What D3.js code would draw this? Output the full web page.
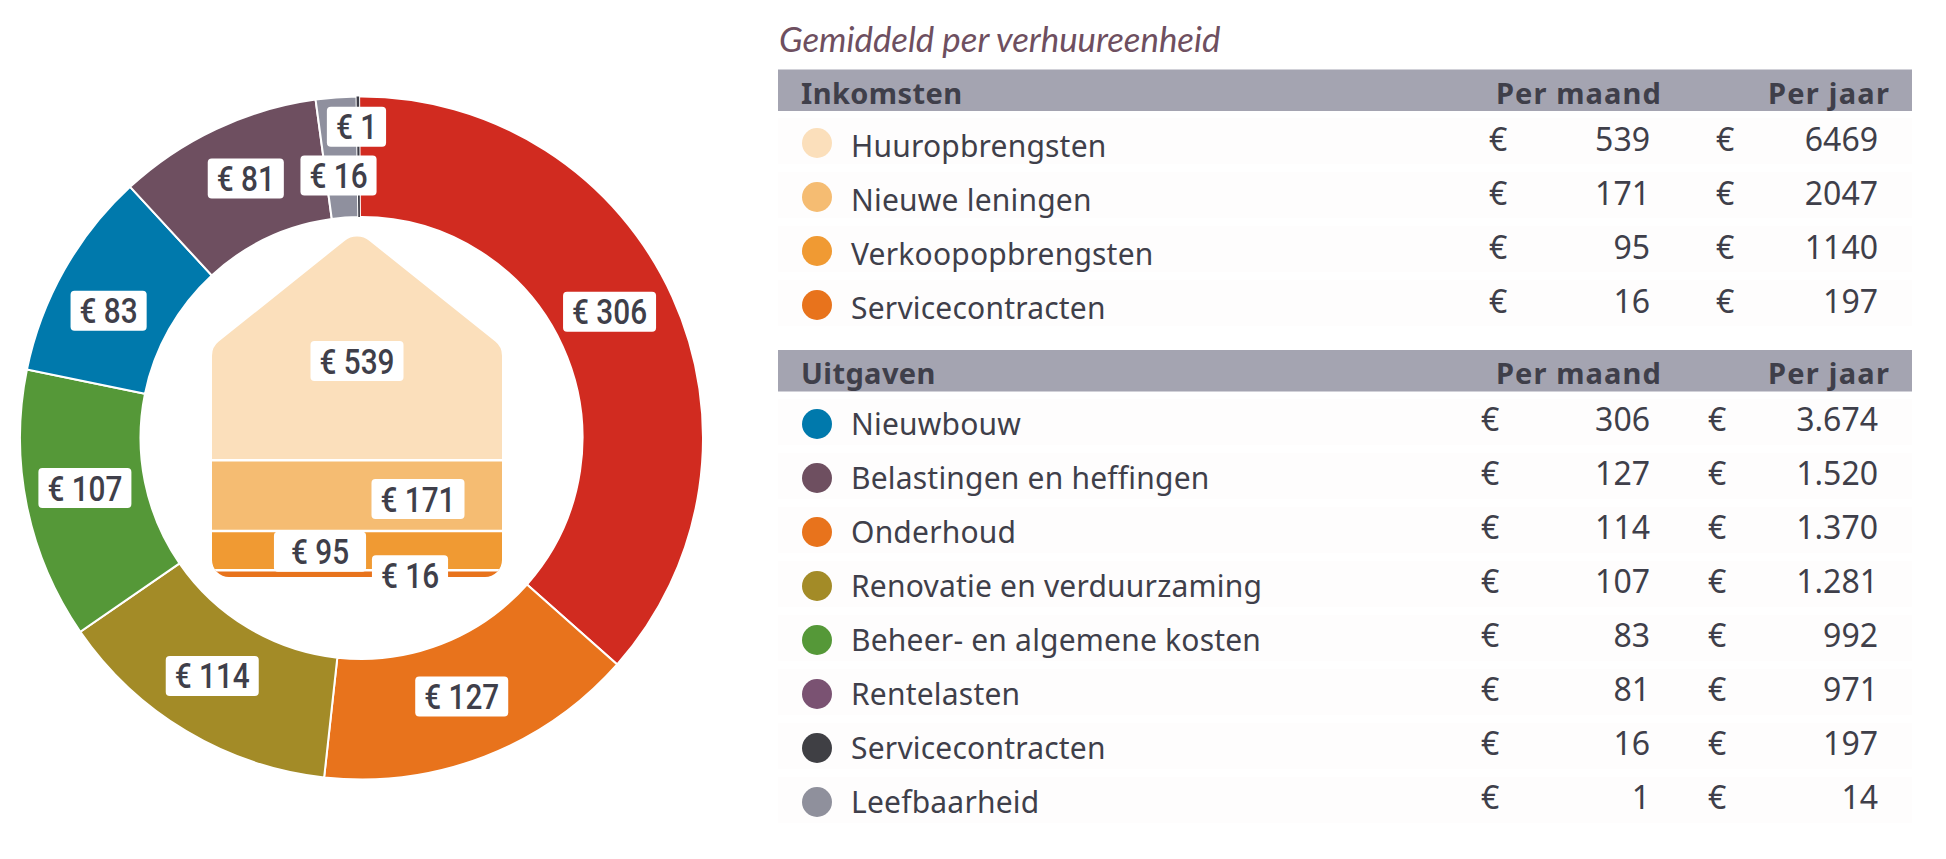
<!DOCTYPE html>
<html>
<head>
<meta charset="utf-8">
<script src="https://cdn.jsdelivr.net/npm/d3@7"></script>
<style>
  html, body { margin: 0; padding: 0; background: #fff; }
  svg { display: block; }
  .tbl { font-family: "Noto Sans", sans-serif; fill: #3f3f4a; }
  .head { font-weight: 700; font-size: 29px; }
  .lbl { font-size: 30px; letter-spacing: 0.2px; }
  .num { font-size: 32px; }
  .tag { font-family: Roboto, sans-serif; font-weight: 500; font-size: 35px; fill: #3f3f4a; }
</style>
</head>
<body>
<svg id="chart" width="1946" height="859"></svg>
<script>
// donut, clockwise from twelve o'clock
const ringValues = [306, 127, 114, 107, 83, 81, 16, 1];
const ringColors = ['#d12b20', '#e8731c', '#a38b27', '#559838', '#0079ac', '#6e4f60', '#8f909e', '#3c3c46'];

// house, top to bottom
const houseValues = [539, 171, 95, 16];
const houseColors = ['#fbdfbb', '#f5bc72', '#f09a33', '#e8731c'];

// table
const incomeNames = ['Huuropbrengsten', 'Nieuwe leningen', 'Verkoopopbrengsten', 'Servicecontracten'];
const incomeMonth = ['539', '171', '95', '16'];
const incomeYear = ['6469', '2047', '1140', '197'];
const incomeDots = ['#fbdfbb', '#f5bc72', '#f09a33', '#e8731c'];

const costNames = ['Nieuwbouw', 'Belastingen en heffingen', 'Onderhoud', 'Renovatie en verduurzaming',
  'Beheer- en algemene kosten', 'Rentelasten', 'Servicecontracten', 'Leefbaarheid'];
const costMonth = ['306', '127', '114', '107', '83', '81', '16', '1'];
const costYear = ['3.674', '1.520', '1.370', '1.281', '992', '971', '197', '14'];
const costDots = ['#0079ac', '#6e4f60', '#e8731c', '#a38b27', '#559838', '#7a5272', '#3f3f44', '#8f909c'];

const svg = d3.select('#chart');

// labels sit off the arc centroid / band middle by hand, same as the original
const ringNudge = [[-8, -10], [-1, -4], [-5, -3.5], [-1, -6], [-8, 11], [4, -5], [-2, 18], [-2, -30]];
const houseNudge = [[0, 12.5], [61, 3.5], [-37, 1], [53, 1.5]];
const housePad = [18, 18, 34, 18];

function tag(g, x, y, text, pad = 18) {
  const t = g.append('g').attr('transform', `translate(${x},${y})`);
  const r = t.append('rect');
  const s = t.append('text')
    .attr('class', 'tag')
    .attr('text-anchor', 'middle')
    .attr('dy', '0.355em')
    .attr('transform', 'scale(0.85,1)')
    .text(text);
  const w = s.node().getComputedTextLength() * 0.85 + pad;
  r.attr('x', -w / 2).attr('y', -20).attr('width', w).attr('height', 40).attr('rx', 4).attr('fill', '#fff');
}

// ---- donut
const cx = 361.5, cy = 438, outer = 341.5, inner = 221;
const tilt = -0.4 * Math.PI / 180;
const pie = d3.pie().sort(null).startAngle(tilt).endAngle(2 * Math.PI + tilt).value(d => d)(ringValues);
const arc = d3.arc().innerRadius(inner).outerRadius(outer);
const ring = svg.append('g').attr('transform', `translate(${cx},${cy})`);

ring.selectAll('path')
  .data(pie)
  .join('path')
  .attr('d', arc)
  .attr('fill', (d, i) => ringColors[i])
  .attr('stroke', '#fff')
  .attr('stroke-width', d => d.value < 5 ? 0 : 2);

// ---- house
const houseX0 = 212, houseX1 = 502, houseTop = 237, houseBottom = 577;
const apexY = 231, shoulderY = 347, houseMid = (houseX0 + houseX1) / 2;
const yHouse = d3.scaleLinear().domain([0, d3.sum(houseValues)]).range([houseTop, houseBottom]);

const p = d3.path();
p.moveTo(houseMid + 20, apexY + 16);
p.arcTo(houseX1, shoulderY, houseX1, houseBottom, 18);
p.arcTo(houseX1, houseBottom, houseX0, houseBottom, 17);
p.arcTo(houseX0, houseBottom, houseX0, shoulderY, 17);
p.arcTo(houseX0, shoulderY, houseMid, apexY, 18);
p.arcTo(houseMid, apexY, houseX1, shoulderY, 20);
p.closePath();

svg.append('clipPath').attr('id', 'house').append('path').attr('d', p.toString());

let run = 0;
const bands = houseValues.map(v => { const b = { v, y0: run, y1: run + v }; run += v; return b; });

const house = svg.append('g').attr('clip-path', 'url(#house)');
house.selectAll('rect')
  .data(bands)
  .join('rect')
  .attr('x', houseX0)
  .attr('width', houseX1 - houseX0)
  .attr('y', d => yHouse(d.y0))
  .attr('height', d => yHouse(d.y1) - yHouse(d.y0))
  .attr('fill', (d, i) => houseColors[i]);
// top band has to reach the apex above the scale's range
house.append('rect')
  .attr('x', houseX0).attr('width', houseX1 - houseX0)
  .attr('y', apexY).attr('height', houseTop - apexY)
  .attr('fill', houseColors[0]);
house.selectAll('line')
  .data(bands.slice(1))
  .join('line')
  .attr('x1', houseX0)
  .attr('x2', houseX1)
  .attr('y1', d => yHouse(d.y0))
  .attr('y2', d => yHouse(d.y0))
  .attr('stroke', '#fff')
  .attr('stroke-width', 2.5);

// tags go on top of everything
const tags = svg.append('g');
pie.forEach((d, i) => {
  const c = arc.centroid(d);
  tag(tags, cx + c[0] + ringNudge[i][0], cy + c[1] + ringNudge[i][1], `€ ${d.value}`);
});
bands.forEach((d, i) => {
  const my = (yHouse(d.y0) + yHouse(d.y1)) / 2;
  tag(tags, houseMid + houseNudge[i][0], my + houseNudge[i][1], `€ ${d.v}`, housePad[i]);
});

// ---- table
const tableX0 = 778, tableX1 = 1912;

svg.append('text')
  .attr('x', 779).attr('y', 52)
  .attr('font-family', 'Lato, sans-serif')
  .attr('font-style', 'italic')
  .attr('font-size', 34.8)
  .attr('fill', '#6e4f60')
  .text('Gemiddeld per verhuureenheid');

function section(opts) {
  const g = svg.append('g').attr('class', 'tbl');
  const y = d3.scalePoint()
    .domain(opts.names)
    .range([opts.first, opts.first + 54 * (opts.names.length - 1)]);

  g.append('rect')
    .attr('x', tableX0).attr('y', opts.headY)
    .attr('width', tableX1 - tableX0).attr('height', 41.5)
    .attr('fill', '#a4a4b1');
  g.append('text').attr('class', 'head').attr('x', 801).attr('y', opts.headY + 34)
    .attr('letter-spacing', 0.4).text(opts.title);
  g.append('text').attr('class', 'head').attr('x', 1496).attr('y', opts.headY + 34)
    .attr('letter-spacing', 1.1).text('Per maand');
  g.append('text').attr('class', 'head').attr('x', 1768).attr('y', opts.headY + 34)
    .attr('letter-spacing', 1.25).text('Per jaar');

  const row = g.selectAll('.row')
    .data(opts.names)
    .join('g')
    .attr('class', 'row')
    .attr('transform', d => `translate(0,${y(d)})`);

  row.append('rect')
    .attr('x', tableX0).attr('y', -25)
    .attr('width', tableX1 - tableX0).attr('height', 46)
    .attr('fill', '#fefdfd');
  row.append('circle')
    .attr('cx', 817).attr('r', 15)
    .attr('fill', (d, i) => opts.dots[i]);
  row.append('text').attr('class', 'lbl')
    .attr('x', 851).attr('y', opts.nameDy)
    .text(d => d);
  row.append('text').attr('class', 'num')
    .attr('x', opts.euroX[0]).attr('y', opts.numDy)
    .text('€');
  row.append('text').attr('class', 'num')
    .attr('x', 1650).attr('y', opts.numDy).attr('text-anchor', 'end')
    .text((d, i) => opts.month[i]);
  row.append('text').attr('class', 'num')
    .attr('x', opts.euroX[1]).attr('y', opts.numDy)
    .text('€');
  row.append('text').attr('class', 'num')
    .attr('x', 1878).attr('y', opts.numDy).attr('text-anchor', 'end')
    .text((d, i) => opts.year[i]);
}

section({
  title: 'Inkomsten', headY: 69.5, first: 143, nameDy: 14, numDy: 8, euroX: [1489, 1716],
  names: incomeNames, month: incomeMonth, year: incomeYear, dots: incomeDots
});
section({
  title: 'Uitgaven', headY: 350, first: 424, nameDy: 11, numDy: 7, euroX: [1481, 1708],
  names: costNames, month: costMonth, year: costYear, dots: costDots
});
</script>
</body>
</html>
